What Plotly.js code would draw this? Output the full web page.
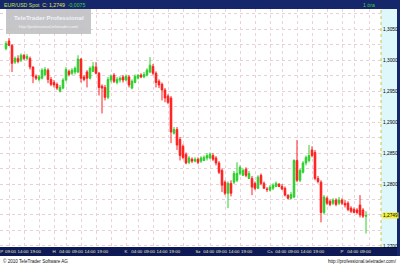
<!DOCTYPE html>
<html><head><meta charset="utf-8">
<script src="https://cdn.plot.ly/plotly-3.0.1.min.js"></script>
<style>html,body{margin:0;padding:0;background:#fff;overflow:hidden}#chart{width:400px;height:266px}</style>
</head><body><div id="chart"></div>
<script>
const symbolText = 'EUR/USD Spot';
const changeText = '-0,0075';
const intervalText = '1 óra';
const copyrightText = '© 2010 TeleTrader Software AG';
const urlText = 'http://professional.teletrader.com/';
const brandText = 'TeleTrader Professional';
const firstHour = 8; // first candle: Friday 08:00 (hours counted over trading days, weekend skipped)

const open = [
1.3019,1.3031,1.3024,1.2997,1.3003,1.3000,1.3008,1.3003,1.3003,1.2989,
1.2974,1.2969,1.2971,1.2977,1.2984,1.2969,1.2964,1.2961,1.2950,1.2955,
1.2968,1.2982,1.2979,1.2981,1.2981,1.3002,1.2973,1.2981,1.2971,1.2982,
1.2989,1.2979,1.2958,1.2956,1.2940,1.2968,1.2976,1.2964,1.2968,1.2973,
1.2968,1.2973,1.2955,1.2964,1.2971,1.2976,1.2973,1.2976,1.2981,1.2990,
1.2979,1.2966,1.2961,1.2952,1.2942,1.2939,1.2882,1.2888,1.2872,1.2861,
1.2848,1.2835,1.2840,1.2837,1.2840,1.2837,1.2838,1.2842,1.2842,1.2846,
1.2842,1.2834,1.2822,1.2803,1.2785,1.2801,1.2803,1.2806,1.2817,1.2814,
1.2824,1.2809,1.2809,1.2801,1.2793,1.2814,1.2801,1.2792,1.2790,1.2793,
1.2796,1.2800,1.2796,1.2793,1.2782,1.2777,1.2779,1.2838,1.2806,1.2819,
1.2834,1.2838,1.2855,1.2851,1.2809,1.2803,1.2754,1.2777,1.2772,1.2769,
1.2774,1.2769,1.2774,1.2769,1.2769,1.2761,1.2759,1.2758,1.2766,1.2758,
1.2748];
const high = [
1.3031,1.3036,1.3026,1.3006,1.3008,1.3011,1.3010,1.3010,1.3006,1.2990,
1.2977,1.2976,1.2987,1.2989,1.2987,1.2973,1.2968,1.2964,1.2960,1.2971,
1.2989,1.2985,1.2987,1.2990,1.3008,1.3003,1.2976,1.2984,1.2990,1.2997,
1.2997,1.2981,1.2961,1.2960,1.2973,1.2977,1.2979,1.2973,1.2974,1.2976,
1.2977,1.2976,1.2969,1.2977,1.2977,1.2979,1.2981,1.2987,1.3005,1.2994,
1.2982,1.2969,1.2964,1.2955,1.2945,1.2942,1.2892,1.2892,1.2876,1.2864,
1.2851,1.2845,1.2843,1.2843,1.2843,1.2845,1.2846,1.2850,1.2851,1.2850,
1.2845,1.2837,1.2825,1.2806,1.2804,1.2806,1.2821,1.2835,1.2830,1.2825,
1.2827,1.2821,1.2813,1.2804,1.2814,1.2817,1.2804,1.2795,1.2798,1.2801,
1.2804,1.2801,1.2800,1.2796,1.2783,1.2787,1.2840,1.2871,1.2825,1.2837,
1.2846,1.2863,1.2861,1.2855,1.2813,1.2806,1.2782,1.2780,1.2775,1.2777,
1.2777,1.2779,1.2777,1.2774,1.2772,1.2764,1.2762,1.2761,1.2782,1.2761,
1.2756];
const low = [
1.3016,1.3023,1.2981,1.2994,1.2995,1.2997,1.3000,1.3000,1.2985,1.2963,
1.2968,1.2966,1.2969,1.2974,1.2963,1.2958,1.2956,1.2952,1.2948,1.2953,
1.2966,1.2974,1.2976,1.2977,1.2979,1.2964,1.2966,1.2956,1.2969,1.2981,
1.2977,1.2943,1.2914,1.2935,1.2937,1.2964,1.2963,1.2961,1.2964,1.2964,
1.2966,1.2956,1.2953,1.2963,1.2969,1.2971,1.2971,1.2974,1.2979,1.2976,
1.2956,1.2955,1.2935,1.2932,1.2929,1.2866,1.2880,1.2855,1.2838,1.2840,
1.2832,1.2832,1.2834,1.2835,1.2832,1.2834,1.2837,1.2838,1.2840,1.2837,
1.2830,1.2816,1.2787,1.2782,1.2761,1.2780,1.2800,1.2803,1.2814,1.2813,
1.2811,1.2808,1.2782,1.2790,1.2792,1.2798,1.2792,1.2787,1.2788,1.2790,
1.2795,1.2795,1.2790,1.2780,1.2775,1.2775,1.2777,1.2803,1.2803,1.2817,
1.2830,1.2835,1.2843,1.2806,1.2801,1.2738,1.2751,1.2766,1.2764,1.2766,
1.2764,1.2766,1.2766,1.2762,1.2756,1.2753,1.2753,1.2751,1.2746,1.2745,
1.2720];
const close = [
1.3027,1.3024,1.2995,1.3003,1.2998,1.3008,1.3003,1.3006,1.2989,1.2974,
1.2971,1.2973,1.2984,1.2985,1.2969,1.2961,1.2960,1.2955,1.2956,1.2968,
1.2985,1.2977,1.2984,1.2987,1.3002,1.2971,1.2969,1.2971,1.2987,1.2990,
1.2979,1.2956,1.2955,1.2940,1.2969,1.2974,1.2966,1.2969,1.2971,1.2968,
1.2974,1.2960,1.2966,1.2974,1.2976,1.2973,1.2977,1.2984,1.2992,1.2979,
1.2964,1.2960,1.2952,1.2939,1.2932,1.2884,1.2888,1.2863,1.2846,1.2843,
1.2834,1.2842,1.2837,1.2840,1.2835,1.2842,1.2843,1.2846,1.2848,1.2840,
1.2834,1.2819,1.2798,1.2785,1.2801,1.2785,1.2817,1.2817,1.2827,1.2822,
1.2814,1.2817,1.2795,1.2793,1.2811,1.2801,1.2793,1.2791,1.2795,1.2798,
1.2801,1.2796,1.2792,1.2782,1.2777,1.2783,1.2838,1.2806,1.2822,1.2834,
1.2843,1.2846,1.2846,1.2809,1.2804,1.2754,1.2779,1.2769,1.2767,1.2774,
1.2767,1.2774,1.2769,1.2766,1.2759,1.2756,1.2754,1.2754,1.2750,1.2748,
1.2749];

const xTickText = ['P','09:00','14:00','19:00','H','04:00','09:00','14:00','19:00',
  'K','04:00','09:00','14:00','19:00','Sz','04:00','09:00','14:00','19:00',
  'Cs','04:00','09:00','14:00','19:00','P','04:00','09:00'];
const yTickVals = [1.2700,1.2725,1.2750,1.2775,1.2800,1.2825,1.2850,1.2875,1.2900,
  1.2925,1.2950,1.2975,1.3000,1.3025,1.3050,1.3075];
const yTickLabelled = [1.2700,1.2800,1.2850,1.2900,1.2950,1.3000,1.3050];

// axis configuration (label slots and grid hours)
const xTickPos = [6.6,9.5,13.67,17.83,
  24,27.6,31.8,36,40.2,
  48,51.6,55.8,60,64.2,
  72,75.6,79.8,84,88.2,
  96,99.6,103.8,108,112.2,
  120,123.6,127.8];
const gridHours = [9,14,19,24,28,33,38,43,48,52,57,62,67,72,76,81,86,91,96,100,105,110,115,120,124,129];

const fmt = v => v.toFixed(4).replace('.', ',');
const hours = open.map((_, i) => firstHour + i);
const yTickText = yTickVals.map(v => yTickLabelled.some(t => Math.abs(t - v) < 1e-6) ? fmt(v) : '');
const lastClose = close[close.length - 1];

const W = 381, H = 238; // plot area pixels
const px = p => p / W;
const py = p => (247 - p) / H;

const traces = [
  {
    type: 'candlestick', x: hours, open: open, high: high, low: low, close: close,
    increasing: {line: {color: '#2ccf2c', width: 1}, fillcolor: '#1fcc1f'},
    decreasing: {line: {color: '#ff2020', width: 1}, fillcolor: '#ff0000'},
    whiskerwidth: 0, hoverinfo: 'skip', showlegend: false
  },
  {type: 'scatter', x: [], y: [], xaxis: 'x2', yaxis: 'y', hoverinfo: 'skip', showlegend: false}
];

const NAVY = '#16266b';
const FONT = 'Liberation Sans, Arial, sans-serif';
const layout = {
  width: 400, height: 266,
  margin: {l: 0, r: 19, t: 9, b: 19, pad: 0},
  paper_bgcolor: '#ffffff', plot_bgcolor: '#ffffff',
  showlegend: false, boxgap: 0.25,
  font: {family: FONT, size: 5, color: '#000'},
  xaxis: {
    range: [6, 133], tickvals: xTickPos, ticktext: xTickText, tickangle: 0,
    showgrid: false, zeroline: false, ticks: '', showline: false,
    tickfont: {color: '#f3edc4', size: 4.4}, ticklabelstandoff: 1,
    rangeslider: {visible: false}, fixedrange: true
  },
  xaxis2: {
    overlaying: 'x', anchor: 'y', range: [6, 133], tickvals: gridHours, showticklabels: false,
    showgrid: true, gridcolor: '#ecd3da', griddash: 'dot', gridwidth: 1, zeroline: false, ticks: '', fixedrange: true
  },
  yaxis: {
    side: 'right', range: [1.26982, 1.30828], tickvals: yTickVals, ticktext: yTickText,
    showgrid: true, gridcolor: '#e8d0d7', griddash: 'dot', gridwidth: 1, zeroline: false,
    ticks: '', tickfont: {size: 4.8, color: '#000'}, ticklabelstandoff: 1, fixedrange: true
  },
  shapes: [
    {type: 'rect', xref: 'paper', yref: 'paper', x0: 0, x1: px(400), y0: 1, y1: py(0), fillcolor: NAVY, line: {width: 0}, layer: 'below'},
    {type: 'rect', xref: 'paper', yref: 'paper', x0: 0, x1: px(400), y0: py(256), y1: 0, fillcolor: '#0e1a55', line: {width: 0}, layer: 'below'},
    {type: 'rect', xref: 'paper', yref: 'paper', x0: 1, x1: px(397), y0: 0, y1: 1, fillcolor: '#def7fb', line: {width: 0}, layer: 'below'},
    {type: 'rect', xref: 'paper', yref: 'paper', x0: px(397), x1: px(400), y0: py(256), y1: py(0), fillcolor: NAVY, line: {width: 0}, layer: 'below'},
    {type: 'line', xref: 'paper', yref: 'paper', x0: 1, x1: 1, y0: 0, y1: 1, line: {color: '#d6c43a', width: 1, dash: 'dot'}, layer: 'above'},
    {type: 'rect', xref: 'paper', yref: 'paper', x0: px(6), x1: px(91), y0: py(34), y1: py(9), fillcolor: 'rgba(192,192,194,0.9)', line: {width: 0}, layer: 'above'}
  ],
  annotations: [
    {xref: 'paper', yref: 'paper', x: px(2), y: py(4.5), xanchor: 'left', yanchor: 'middle', showarrow: false,
     text: '<span style="color:#cde04a">' + symbolText + '</span>  <span style="color:#e6e84c">C: ' + fmt(lastClose) + '</span>  <span style="color:#3fd13f">' + changeText + '</span>',
     font: {size: 5.2, family: FONT}},
    {xref: 'paper', yref: 'paper', x: px(377), y: py(4.5), xanchor: 'right', yanchor: 'middle', showarrow: false,
     text: intervalText, font: {size: 5.2, color: '#3fd13f'}},
    {xref: 'paper', yref: 'paper', x: px(48.5), y: py(17.5), xanchor: 'center', yanchor: 'middle', showarrow: false,
     text: '<b>' + brandText + '</b>', font: {size: 6.2, color: '#eef3fb'}},
    {xref: 'paper', yref: 'paper', x: px(48.5), y: py(27), xanchor: 'center', yanchor: 'middle', showarrow: false,
     text: urlText, font: {size: 4, color: '#f4f6fb'}},
    {xref: 'paper', yref: 'paper', x: px(1), y: py(261), xanchor: 'left', yanchor: 'middle', showarrow: false,
     text: copyrightText, font: {size: 4.6, color: '#111'}},
    {xref: 'paper', yref: 'paper', x: px(399), y: py(261), xanchor: 'right', yanchor: 'middle', showarrow: false,
     text: urlText, font: {size: 4.6, color: '#111'}},
    {xref: 'paper', yref: 'y', x: px(382), y: lastClose, xanchor: 'left', yanchor: 'middle', showarrow: false,
     text: fmt(lastClose), bgcolor: '#f2ee3a', borderpad: 0, font: {size: 4.8, color: '#000'}}
  ]
};

Plotly.newPlot('chart', traces, layout, {staticPlot: true, displayModeBar: false});
</script>
</body></html>
